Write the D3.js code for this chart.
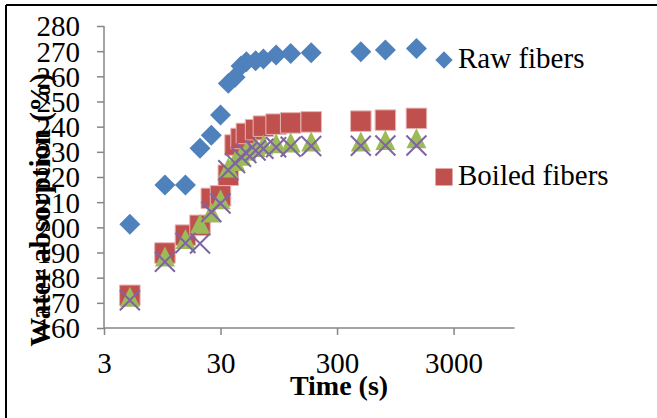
<!DOCTYPE html>
<html lang="en">
<head>
<meta charset="utf-8">
<title>Water absorption</title>
<script src="https://cdn.jsdelivr.net/npm/d3@7"></script>
<style>
  body { margin: 0; background: #fff; }
  text { font-family: "Liberation Serif", "Times New Roman", serif; fill: #000; }
</style>
</head>
<body>
<div id="chart"></div>
<script>
// time points (s) and series values (%)
var times   = [5, 10, 15, 20, 25, 30, 35, 40, 45, 50, 60, 70, 90, 120, 180, 480, 780, 1440];
var rawFib  = [201.2, 216.8, 216.8, 231.4, 236.6, 244.6, 257.2, 259.6, 264.1, 265.8, 266.2, 266.9, 268.5, 269.1, 269.4, 269.8, 270.5, 271.1];
var boiled  = [173, 189.8, 196.9, 200.8, 211.5, 212.5, 220.7, 232.7, 235.3, 237.3, 238.8, 240.2, 241, 241.5, 241.9, 242.2, 242.6, 243.3];
var series3 = [172, 188, 195, 201, 205.5, 210.8, 223.4, 226, 228, 230, 231.5, 232.5, 233, 233.3, 233.7, 233.7, 234.3, 235];
var series4 = [171, 186.3, 193.8, 193.6, 206.1, 209.5, 222.7, 225.5, 228, 229.5, 230.5, 231.2, 231.8, 232, 232.3, 232.4, 232.5, 232.5];
var xTicks  = [3, 30, 300, 3000];
var yTicks  = [160, 170, 180, 190, 200, 210, 220, 230, 240, 250, 260, 270, 280];
var legendNames = ["Raw fibers", "Boiled fibers"];

var w = 657, h = 418;
var svg = d3.select("#chart").append("svg").attr("width", w).attr("height", h);

// outer frame (only top and left visible)
svg.append("line").attr("x1", 6).attr("y1", 5).attr("x2", w).attr("y2", 5)
   .attr("stroke", "#000").attr("stroke-width", 2);
svg.append("line").attr("x1", 6).attr("y1", 5).attr("x2", 6).attr("y2", h)
   .attr("stroke", "#000").attr("stroke-width", 2);

var x = d3.scaleLog().domain([3, 10000]).range([104, 514.5]);
var y = d3.scaleLinear().domain([160, 280]).range([328, 26]);

var axisColor = "#868686";

// x axis
var gx = svg.append("g").attr("transform", "translate(0,328)")
  .call(d3.axisBottom(x).tickValues(xTicks).tickFormat(d3.format("d")).tickSize(7).tickPadding(17));
gx.selectAll("path, line").attr("stroke", axisColor).attr("stroke-width", 1.5);
gx.selectAll("text").attr("font-size", "29px").attr("font-family", "Liberation Serif");

// y axis
var gy = svg.append("g").attr("transform", "translate(104,0)")
  .call(d3.axisLeft(y).tickValues(yTicks).tickSize(7).tickPadding(17));
gy.selectAll("path, line").attr("stroke", axisColor).attr("stroke-width", 1.5);
gy.selectAll("text").attr("font-size", "29px").attr("font-family", "Liberation Serif").attr("dy", "0.34em");
gy.select(".domain").attr("d", "M0,328V26");
gx.select(".domain").attr("d", "M104,0H514.5");

// axis titles
svg.append("text").attr("x", 339).attr("y", 395).attr("text-anchor", "middle")
   .attr("font-size", "28px").attr("font-weight", "bold").text("Time (s)");
svg.append("text").attr("transform", "translate(50,210) rotate(-90)").attr("text-anchor", "middle")
   .attr("font-size", "29px").attr("font-weight", "bold").text("Water absorption (%)");

// markers
var diamond = d3.symbol().type(d3.symbolSquare).size(220);
var square = d3.symbol().type(d3.symbolSquare).size(420);
var tri = function(s) { return "M0," + (-s * 0.55) + "L" + (s / 2) + "," + (s * 0.45) + "L" + (-s / 2) + "," + (s * 0.45) + "Z"; };

var plot = svg.append("g");

plot.selectAll(".raw").data(rawFib).enter().append("path")
  .attr("d", diamond)
  .attr("transform", function(d, i) { return "translate(" + x(times[i]) + "," + y(d) + ") rotate(45)"; })
  .attr("fill", "#4F81BD");

plot.selectAll(".boiled").data(boiled).enter().append("path")
  .attr("d", square)
  .attr("transform", function(d, i) { return "translate(" + x(times[i]) + "," + y(d) + ")"; })
  .attr("fill", "#C0504D").attr("stroke", "#E6B4B3").attr("stroke-width", 1);

plot.selectAll(".s3").data(series3).enter().append("path")
  .attr("d", tri(20))
  .attr("transform", function(d, i) { return "translate(" + x(times[i]) + "," + y(d) + ")"; })
  .attr("fill", "#9BBB59");

plot.selectAll(".s4").data(series4).enter().append("path")
  .attr("d", "M-10,-10L10,10M-10,10L10,-10")
  .attr("transform", function(d, i) { return "translate(" + x(times[i]) + "," + y(d) + ")"; })
  .attr("stroke", "#8064A2").attr("stroke-width", 2).attr("fill", "none");

// legend
var leg = svg.append("g");
leg.append("path").attr("d", d3.symbol().type(d3.symbolSquare).size(150))
  .attr("transform", "translate(444,60) rotate(45)").attr("fill", "#4F81BD");
leg.append("text").attr("x", 458).attr("y", 68).attr("font-size", "29px").text(legendNames[0]);
leg.append("path").attr("d", d3.symbol().type(d3.symbolSquare).size(289))
  .attr("transform", "translate(444,177)").attr("fill", "#C0504D");
leg.append("text").attr("x", 458).attr("y", 185).attr("font-size", "29px").text(legendNames[1]);
</script>
</body>
</html>
